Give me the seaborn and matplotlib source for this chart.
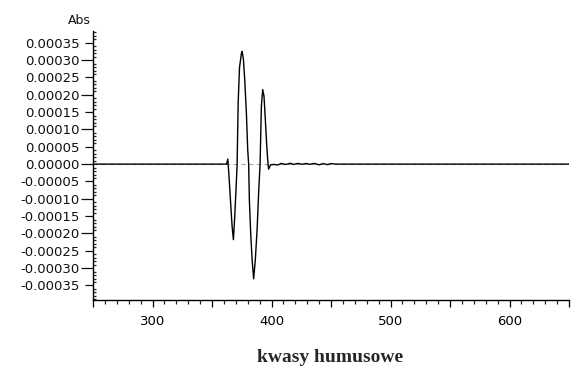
import numpy as np
import matplotlib
matplotlib.use("Agg")
import matplotlib.pyplot as plt
import seaborn as sns
from matplotlib.ticker import MultipleLocator, FixedLocator, FuncFormatter

# ---- data ----
wavelength = [250, 362.2, 363.3, 364.1, 365.5, 366.9, 368.0, 369.1, 370.3, 371.1,
              372.0, 373.1, 374.7, 375.3, 376.4, 377.5, 378.9, 380.0, 380.8,
              381.4, 382.5, 383.7, 385.0, 386.4, 387.9, 389.2, 390.4,
              391.5, 392.6, 393.7, 394.8, 396.2, 397.1, 397.6, 399.2,
              402.0, 405.5, 408.0, 412.0, 416.0, 418.5, 422.0, 426.0,
              429.0, 432.0, 436.0, 440.0, 443.5, 447.0, 450.0, 454.0, 459.0, 650]
absorbance = [0.0, 0.0, 1.45e-5, -2.5e-5, -1.03e-4, -1.80e-4, -2.18e-4, -1.51e-4, -6.4e-5, -1.5e-6,
              1.77e-4, 2.78e-4, 3.19e-4, 3.25e-4, 3.02e-4, 2.44e-4, 1.48e-4, 4.2e-5, 0.0,
              -1.03e-4, -1.98e-4, -2.76e-4, -3.31e-4, -2.76e-4, -1.89e-4, -8.2e-5, 0.0,
              1.67e-4, 2.15e-4, 1.96e-4, 1.29e-4, 4.2e-5, 0.0, -1.45e-5, -2.0e-6,
              -1.0e-6, -2.5e-6, 2.0e-6, -1.0e-6, 2.5e-6, -1.0e-6, 2.0e-6, -0.5e-6,
              2.0e-6, -0.5e-6, 2.0e-6, -2.0e-6, 1.5e-6, -1.5e-6, 1.5e-6, 0.0, 0.0, 0.0]

ytick_vals = [-0.00035, -0.00030, -0.00025, -0.00020, -0.00015, -0.00010, -0.00005, 0.0,
              0.00005, 0.00010, 0.00015, 0.00020, 0.00025, 0.00030, 0.00035]
xtick_labels = [300, 400, 500, 600]
y_label = "Abs"
title = "kwasy humusowe"

# ---- style ----
sns.set_style("ticks")
plt.rcParams['font.family'] = ['DejaVu Sans']

fig = plt.figure(figsize=(5.71, 3.67), dpi=100)
ax = fig.add_axes([93 / 571, 1 - 300 / 367, (569 - 93) / 571, (300 - 31) / 367])

ax.axhline(0, color='#a8a898', lw=0.8, ls=(0, (4, 3)), zorder=1)
sns.lineplot(x=wavelength, y=absorbance, ax=ax, color='black', linewidth=1.0,
             estimator=None, sort=False, zorder=3)

ax.set_xlim(250, 650)
ax.set_ylim(-0.000392, 0.000384)

for s in ['top', 'right']:
    ax.spines[s].set_visible(False)
for s in ['left', 'bottom']:
    ax.spines[s].set_linewidth(1.0)
    ax.spines[s].set_color('black')

# x axis ticks
ax.xaxis.set_major_locator(MultipleLocator(50))
ax.xaxis.set_minor_locator(MultipleLocator(10))
ax.xaxis.set_major_formatter(FuncFormatter(
    lambda v, p: str(int(round(v))) if int(round(v)) in xtick_labels else ""))
ax.tick_params(axis='x', which='major', direction='out', length=5, width=0.9,
               pad=5.5, labelsize=9.5, colors='black')
ax.tick_params(axis='x', which='minor', direction='out', length=2.8, width=0.9)

# y axis ticks
ax.yaxis.set_major_locator(FixedLocator(ytick_vals))
ax.yaxis.set_minor_locator(MultipleLocator(0.00001))
ax.yaxis.set_major_formatter(FuncFormatter(
    lambda v, p: f"{(0.0 if abs(v) < 1e-12 else v):.5f}"))
ax.tick_params(axis='y', which='major', direction='out', length=5.5, width=0.9,
               pad=4, labelsize=9.5, colors='#111111')
ax.tick_params(axis='y', which='minor', direction='in', length=2.5, width=0.9)

ax.set_xlabel("")
ax.set_ylabel("")

fig.canvas.draw()
for t, v in zip(ax.yaxis.get_major_ticks(), ytick_vals):
    if abs(round(v / 0.0001) - v / 0.0001) < 1e-6:
        t.tick1line.set_markersize(9)

fig.text(91 / 571, 1 - 20 / 367, y_label, ha='right', va='center', fontsize=9,
         color='#111111')
fig.text(330 / 571, 1 - 358 / 367, title, ha='center', va='center', fontsize=14,
         fontweight='bold', family=['Liberation Serif', 'DejaVu Serif'])

fig.savefig("out.png", dpi=100)
